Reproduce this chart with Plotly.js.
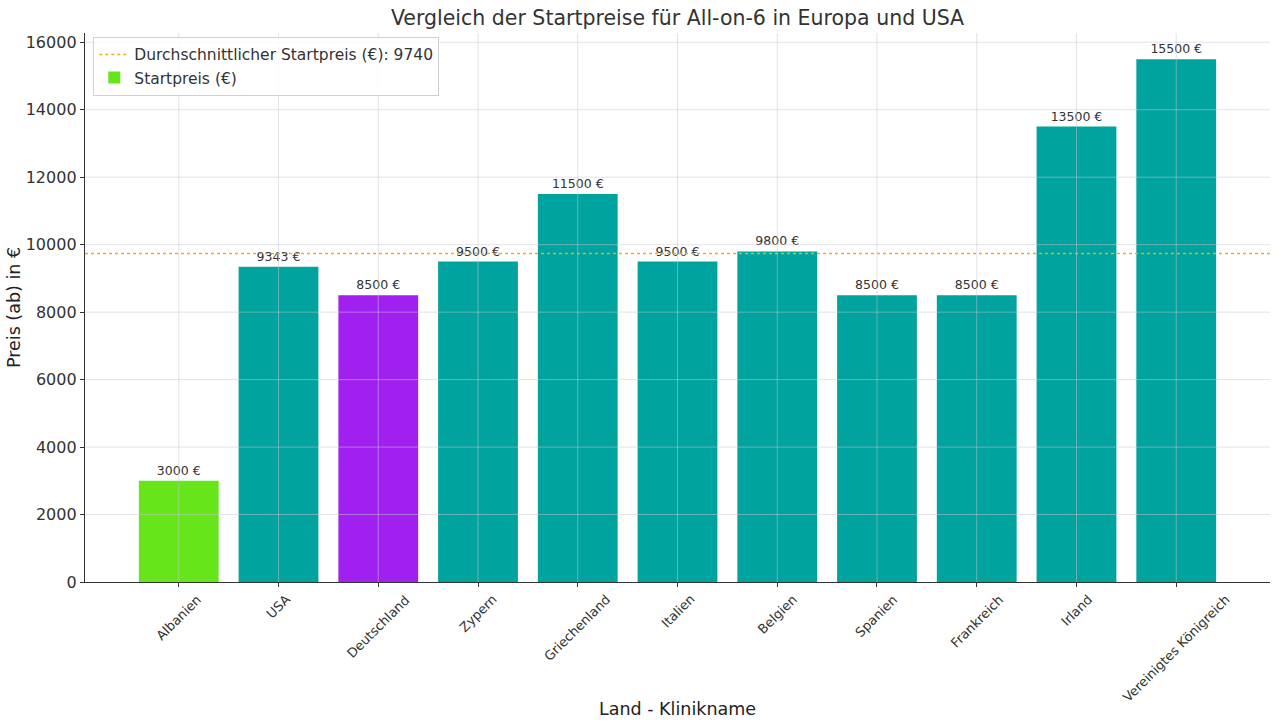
<!DOCTYPE html>
<html>
<head>
<meta charset="utf-8">
<script src="https://cdn.plot.ly/plotly-3.0.1.min.js"></script>
<style>html,body{margin:0;padding:0;background:#fff;}#chart{width:1280px;height:728px;}</style>
</head>
<body>
<div id="chart"></div>
<script>
const countries = ["Albanien","USA","Deutschland","Zypern","Griechenland","Italien","Belgien","Spanien","Frankreich","Irland","Vereinigtes Königreich"];
const prices = [3000,9343,8500,9500,11500,9500,9800,8500,8500,13500,15500];
const barColors = ["#66e61a","#00a39e","#a020f0","#00a39e","#00a39e","#00a39e","#00a39e","#00a39e","#00a39e","#00a39e","#00a39e"];
const avgPrice = 9740;
const yTicks = [0,2000,4000,6000,8000,10000,12000,14000,16000];
const labels = prices.map(v => v + " €");

const font = "DejaVu Sans, sans-serif";
const gridColor = "rgba(200,200,212,0.5)";

const avgTrace = {
  type: "scatter", mode: "lines",
  x: [0, 1], y: [avgPrice, avgPrice],
  xaxis: "x2", yaxis: "y",
  line: {color: "#f0ae0c", width: 1.5, dash: "dot"},
  name: "Durchschnittlicher Startpreis (€): " + avgPrice,
  hoverinfo: "skip"
};
const barTrace = {
  type: "bar",
  x: countries, y: prices,
  marker: {color: barColors},
  width: 0.8,
  text: labels, textposition: "outside", cliponaxis: false,
  textfont: {family: font, size: 12.5, color: "#333"},
  name: "Startpreis (€)"
};

// grid lines drawn above bars, like the reference
const shapes = [];
countries.forEach(c => shapes.push({type: "line", layer: "above", xref: "x", yref: "paper", x0: c, x1: c, y0: 0, y1: 1, line: {color: gridColor, width: 1}}));
yTicks.slice(1).forEach(v => shapes.push({type: "line", layer: "above", xref: "paper", yref: "y", x0: 0, x1: 1, y0: v, y1: v, line: {color: gridColor, width: 1}}));

// category labels, rotated and centred under each tick
const annotations = countries.map(c => ({
  xref: "x", yref: "paper", x: c, y: 0, yshift: -7,
  xanchor: "center", yanchor: "top", textangle: -45, showarrow: false,
  text: c, font: {family: font, size: 13, color: "#333"}
}));

const layout = {
  width: 1280, height: 728,
  margin: {l: 85, r: 10, t: 33, b: 146},
  paper_bgcolor: "#fff", plot_bgcolor: "#fff",
  font: {family: font, color: "#333"},
  title: {text: "Vergleich der Startpreise für All-on-6 in Europa und USA", font: {family: font, size: 20.5, color: "#333"}, xref: "paper", x: 0.5, xanchor: "center", yref: "container", y: 0.975, yanchor: "middle"},
  bargap: 0.2,
  shapes: shapes,
  annotations: annotations,
  xaxis: {
    type: "category", range: [-0.94, 10.94],
    showgrid: false,
    showline: true, linecolor: "#333", linewidth: 1.2,
    ticks: "outside", ticklen: 4, tickcolor: "#333",
    showticklabels: false,
    title: {text: "Land - Klinikname", font: {family: font, size: 17.5, color: "#222"}, standoff: 116},
    zeroline: false
  },
  xaxis2: {overlaying: "x", range: [0, 1], visible: false, showgrid: false, zeroline: false},
  yaxis: {
    range: [0, 16275], tickvals: yTicks, tickformat: "d",
    showgrid: false,
    showline: true, linecolor: "#333", linewidth: 1.2,
    ticks: "outside", ticklen: 4, tickcolor: "#333",
    tickfont: {family: font, size: 16, color: "#333"},
    title: {text: "Preis (ab) in €", font: {family: font, size: 17.5, color: "#222"}, standoff: 0},
    zeroline: false
  },
  legend: {
    x: 0.007, y: 0.993, xanchor: "left", yanchor: "top",
    bgcolor: "rgba(255,255,255,0.85)", bordercolor: "#d0d0d0", borderwidth: 1,
    font: {family: font, size: 15.5, color: "#333"},
    traceorder: "normal"
  },
  showlegend: true
};

Plotly.newPlot("chart", [avgTrace, barTrace], layout, {displayModeBar: false, staticPlot: true});
</script>
</body>
</html>
